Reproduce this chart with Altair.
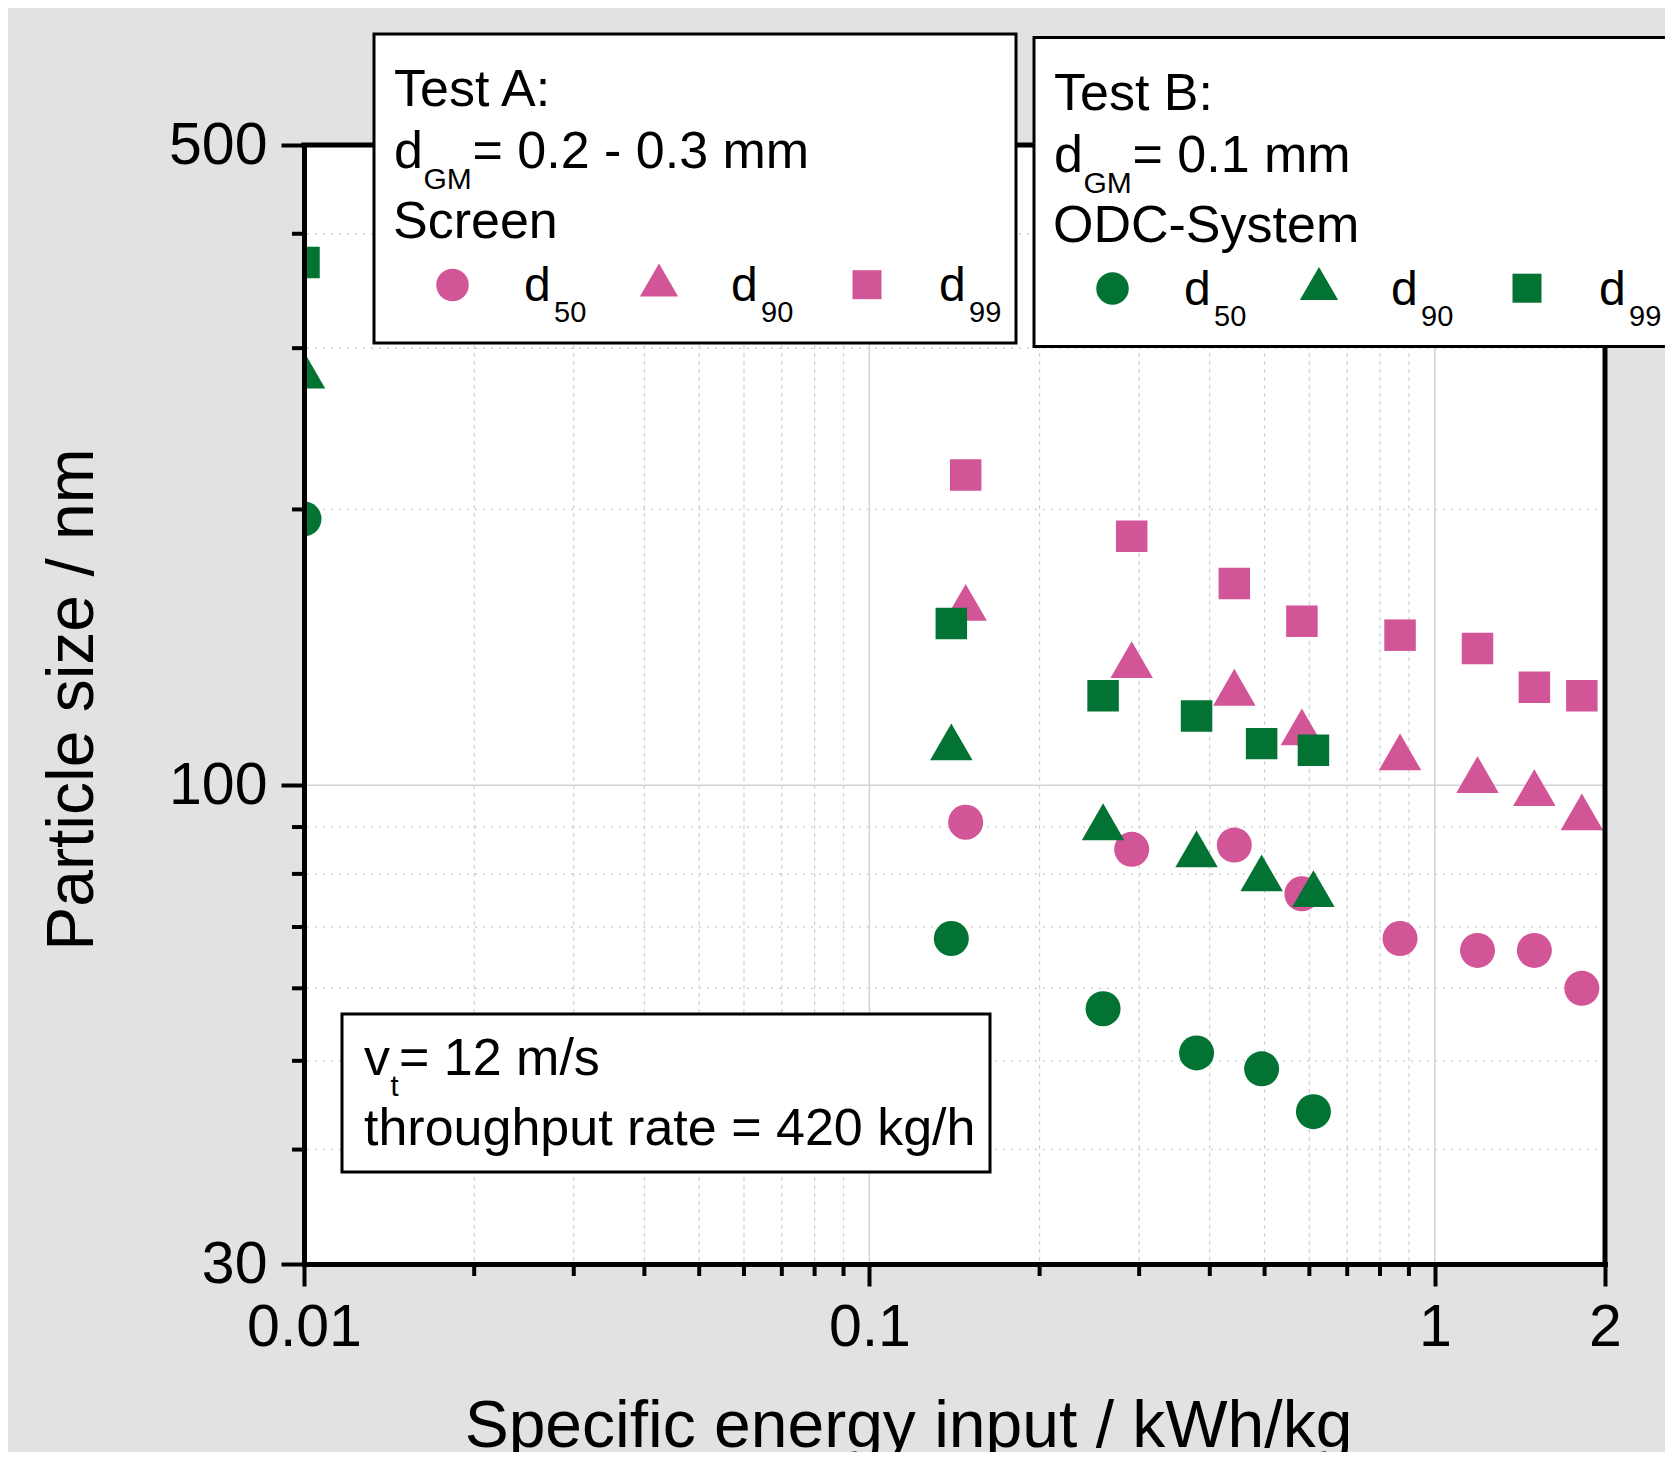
import altair as alt
import pandas as pd

FONT = "Liberation Sans"
PINK = "#d25597"
GREEN = "#027333"
BG = "#e1e2e4"
GRID = "#d2d2d2"

# ---- data ----
# Test A: Screen, dGM = 0.2 - 0.3 mm
energy_A = [0.148, 0.291, 0.442, 0.582, 0.868, 1.19, 1.50, 1.82]
d50_A = [91.1, 85.1, 86.0, 76.1, 68.0, 66.0, 66.0, 60.0]
d90_A = [158.3, 137.1, 127.9, 115.8, 108.7, 102.7, 99.4, 93.5]
d99_A = [218.1, 187.0, 166.0, 151.0, 145.8, 141.0, 127.9, 125.2]

# Test B: ODC-System, dGM = 0.1 mm
energy_B = [0.01, 0.1396, 0.259, 0.379, 0.494, 0.610]
d50_B = [195.3, 68.0, 57.0, 51.0, 49.0, 44.0]
d90_B = [283.9, 111.5, 91.2, 85.2, 80.2, 77.1]
d99_B = [372.1, 150.1, 125.2, 119.0, 111.0, 109.2]

x_major = [0.01, 0.1, 1, 2]
x_minor = [0.02, 0.03, 0.04, 0.05, 0.06, 0.07, 0.08, 0.09,
           0.2, 0.3, 0.4, 0.5, 0.6, 0.7, 0.8, 0.9]
x_grid_major = [0.1, 1]
y_major = [30, 100, 500]
y_minor = [40, 50, 60, 70, 80, 90, 200, 300, 400]
y_grid_major = [100]

W, H = 1301, 1119

rows = []
for test, en, series in [("A", energy_A, {"d50": d50_A, "d90": d90_A, "d99": d99_A}),
                         ("B", energy_B, {"d50": d50_B, "d90": d90_B, "d99": d99_B})]:
    for stat, vals in series.items():
        for e, v in zip(en, vals):
            rows.append({"energy": e, "size": v, "test": test, "stat": stat})
df = pd.DataFrame(rows)

xs = alt.Scale(type="log", domain=[0.01, 2], nice=False)
ys = alt.Scale(type="log", domain=[30, 500], nice=False)

xaxis = alt.Axis(values=x_major, labelExpr="'' + datum.value", grid=False,
                 title="Specific energy input / kWh/kg", labelFlush=False, labelOverlap=False,
                 tickSize=22, tickWidth=4, tickColor="black", domainColor="black",
                 domainWidth=5, domainCap="square", labelFont=FONT, labelFontSize=59,
                 labelColor="black", labelPadding=12, titleFont=FONT, titleFontSize=66,
                 titleFontWeight="normal", titleColor="black", titleX=604, titleY=182,
                 titleAlign="center", titleBaseline="alphabetic", zindex=1)
yaxis = alt.Axis(values=y_major, labelExpr="'' + datum.value", grid=False,
                 title="Particle size / nm", labelFlush=False, labelOverlap=False,
                 tickSize=23, tickWidth=4, tickColor="black", domainColor="black",
                 domainWidth=5, domainCap="square", labelFont=FONT, labelFontSize=59,
                 labelColor="black", labelPadding=14, titleFont=FONT, titleFontSize=66,
                 titleFontWeight="normal", titleColor="black", titleX=-212, titleY=554,
                 titleAngle=270, titleAlign="center", titleBaseline="alphabetic", zindex=1)

one = pd.DataFrame({"k": [0]})

def vgrid(vals, dash, width):
    return alt.Chart(pd.DataFrame({"energy": vals})).mark_rule(
        color=GRID, strokeWidth=width, **({"strokeDash": dash} if dash else {})
    ).encode(x=alt.X("energy:Q", scale=xs, axis=xaxis))

def hgrid(vals, dash, width):
    return alt.Chart(pd.DataFrame({"size": vals})).mark_rule(
        color=GRID, strokeWidth=width, **({"strokeDash": dash} if dash else {})
    ).encode(y=alt.Y("size:Q", scale=ys, axis=yaxis))

layers = [
    vgrid(x_minor, [4, 4], 1.2),
    hgrid(y_minor, [2, 6], 1.5),
    vgrid(x_grid_major, None, 1.5),
    hgrid(y_grid_major, None, 1.5),
]

color = alt.Color("test:N", scale=alt.Scale(domain=["A", "B"], range=[PINK, GREEN]), legend=None)
base = alt.Chart(df).encode(
    x=alt.X("energy:Q", scale=xs, axis=xaxis),
    y=alt.Y("size:Q", scale=ys, axis=yaxis),
    color=color,
)
for stat, shape, sz in [("d50", "circle", 1225), ("d90", "triangle-up", 1806), ("d99", "square", 992)]:
    layers.append(base.transform_filter(alt.datum.stat == stat).mark_point(
        shape=shape, filled=True, size=sz, opacity=1, clip=True, strokeWidth=0))

# frame (top and right)
layers.append(alt.Chart(one).mark_rule(color="black", strokeWidth=5, strokeCap="square").encode(
    x=alt.value(0), x2=alt.value(W), y=alt.value(0)))
layers.append(alt.Chart(one).mark_rule(color="black", strokeWidth=5, strokeCap="square").encode(
    x=alt.value(W), y=alt.value(0), y2=alt.value(H)))

# minor ticks
layers.append(alt.Chart(pd.DataFrame({"energy": x_minor})).mark_rule(color="black", strokeWidth=4).encode(
    x=alt.X("energy:Q", scale=xs, axis=xaxis), y=alt.value(H), y2=alt.value(H + 12)))
layers.append(alt.Chart(pd.DataFrame({"size": y_minor})).mark_rule(color="black", strokeWidth=4).encode(
    y=alt.Y("size:Q", scale=ys, axis=yaxis), x=alt.value(0), x2=alt.value(-12)))

def box(x1, x2, y1, y2):
    return alt.Chart(one).mark_rect(fill="white", stroke="black", strokeWidth=3).encode(
        x=alt.value(x1), x2=alt.value(x2), y=alt.value(y1), y2=alt.value(y2))

def txt(x, y, s, fs=52):
    return alt.Chart(one).mark_text(text=s, font=FONT, fontSize=fs, color="black",
                                    align="left", baseline="alphabetic").encode(
        x=alt.value(x), y=alt.value(y))

def sym(x, y, shape, sz, col):
    return alt.Chart(one).mark_point(shape=shape, filled=True, size=sz, opacity=1,
                                     color=col, strokeWidth=0).encode(
        x=alt.value(x), y=alt.value(y))

# legend boxes
legend_specs = [
    ("Test A:", "= 0.2 - 0.3 mm", "Screen", PINK, 0, 0),
    ("Test B:", "= 0.1 mm", "ODC-System", GREEN, 660, 3.5),
]
stat_subs = ["50", "90", "99"]
for title, dgm, method, col, ox, oy in legend_specs:
    right = 712 if ox == 0 else 1420
    layers.append(box(70 + ox, right, -111 + oy, 198 + oy))
    layers.append(txt(90 + ox, -39 + oy, title))
    layers.append(txt(90 + ox, 23 + oy, "d"))
    layers.append(txt(119.5 + ox, 44 + oy, "GM", 30))
    layers.append(txt(168.5 + ox, 23 + oy, dgm))
    layers.append(txt(89 + ox, 93 + oy, method))
    for i, (shape, sz, sy) in enumerate([("circle", 1056, 140), ("triangle-up", 1467, 135), ("square", 841, 139.7)]):
        sx = [148.5, 355, 563][i]
        layers.append(sym(sx + ox, sy + oy, shape, sz, col))
        layers.append(txt([220, 427, 635][i] + ox, 156 + oy, "d", 48))
        layers.append(txt([250, 457, 665][i] + ox, 177 + oy, stat_subs[i], 29))

# conditions box
layers.append(box(38, 686, 869, 1027))
layers.append(txt(60, 930, "v"))
layers.append(txt(86.5, 951, "t", 29))
layers.append(txt(95, 930, "= 12 m/s"))
layers.append(txt(60, 1000, "throughput rate = 420 kg/h"))

chart = alt.layer(*layers).properties(
    width=W, height=H,
    autosize=alt.AutoSizeParams(type="none"),
    padding={"left": 296, "top": 137, "right": 60, "bottom": 188},
).configure(background=BG).configure_view(fill="white", stroke="transparent")

chart.save("out.html", embed_options={"renderer": "svg", "actions": False})
